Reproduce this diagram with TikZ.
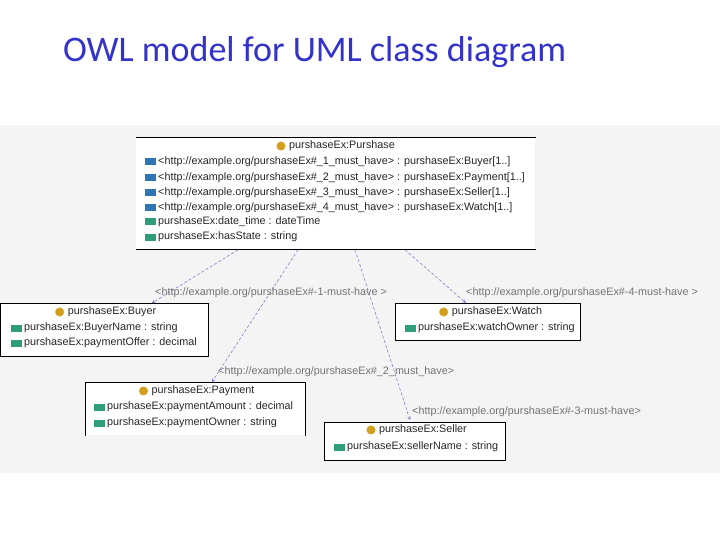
\documentclass[tikz,border=0pt]{standalone}
\usepackage{fontspec}
\setmainfont{Liberation Sans}
\newfontfamily\titlefont{Carlito}
\usetikzlibrary{calc}
\definecolor{ttl}{HTML}{3333CC}
\definecolor{op}{HTML}{2E75B6}
\definecolor{dp}{HTML}{2E9E7A}
\definecolor{cls}{HTML}{D4A020}
\definecolor{edge}{HTML}{7070D0}
\definecolor{bg}{HTML}{F4F4F4}
\tikzset{
 box/.style={draw=black, line width=0.8pt, fill=white, anchor=north west, inner sep=0pt},
 txt/.style={anchor=west, inner sep=0pt, font=\fontsize{10.8}{12}\selectfont, text=black!85},
 ttxt/.style={anchor=center, inner sep=0pt, font=\fontsize{10.8}{12}\selectfont, text=black!85},
 lbl/.style={anchor=west, inner sep=0pt, font=\fontsize{10.8}{12}\selectfont, text=black!55},
 rel/.style={draw=edge, densely dashed, line width=0.5pt, ->, >=stealth},
}
\newcommand{\opi}[1]{\fill[op] ($(#1)+(-13,-3.5)$) rectangle ++(11,7);}
\newcommand{\dpi}[1]{\fill[dp] ($(#1)+(-13,-3.5)$) rectangle ++(11,7);}
\newcommand{\clsi}[1]{\fill[cls] ($(#1)+(-8,0)$) circle (4.5);}
\begin{document}
\begin{tikzpicture}[x=1pt,y=-1pt]
\useasboundingbox (0,0) rectangle (720,540);
\fill[white] (0,0) rectangle (720,540);
\fill[bg] (0,125) rectangle (720,473);
\node[anchor=west, inner sep=0pt, text=ttl, font=\titlefont\fontsize{36}{40}\selectfont] (title) at (63,52) {OWL model for UML class diagram};
% Purchase
\node[box, minimum width=399pt, minimum height=112pt, draw=none] (P) at (136,137) {};
\draw[line width=0.8pt] (P.north west) -- (P.north east) (P.south west) -- (P.south east);
\node[ttxt] (pt) at (342,146) {purshaseEx:Purshase}; \clsi{pt.west}
\node[txt] (p1) at (158,162) {<http://example.org/purshaseEx\#\_1\_must\_have> : purshaseEx:Buyer[1..]}; \opi{p1.west}
\node[txt] (p2) at (158,178) {<http://example.org/purshaseEx\#\_2\_must\_have> : purshaseEx:Payment[1..]}; \opi{p2.west}
\node[txt] (p3) at (158,193) {<http://example.org/purshaseEx\#\_3\_must\_have> : purshaseEx:Seller[1..]}; \opi{p3.west}
\node[txt] (p4) at (158,208) {<http://example.org/purshaseEx\#\_4\_must\_have> : purshaseEx:Watch[1..]}; \opi{p4.west}
\node[txt] (p5) at (158,222) {purshaseEx:date\_time : dateTime}; \dpi{p5.west}
\node[txt] (p6) at (158,237) {purshaseEx:hasState : string}; \dpi{p6.west}
% Buyer
\node[box, minimum width=208pt, minimum height=53pt] (B) at (0,303) {};
\node[ttxt] (bt) at (112,312) {purshaseEx:Buyer}; \clsi{bt.west}
\node[txt] (b1) at (24,328) {purshaseEx:BuyerName : string}; \dpi{b1.west}
\node[txt] (b2) at (24,343) {purshaseEx:paymentOffer : decimal}; \dpi{b2.west}
% Watch
\node[box, minimum width=185pt, minimum height=37pt] (W) at (395,303) {};
\node[ttxt] (wt) at (497,312) {purshaseEx:Watch}; \clsi{wt.west}
\node[txt] (w1) at (418,328) {purshaseEx:watchOwner : string}; \dpi{w1.west}
% Payment
\node[box, minimum width=220pt, minimum height=53pt, draw=none] (Y) at (85,382) {};
\draw[line width=0.8pt] (Y.south west) -- (Y.north west) -- (Y.north east) -- (Y.south east);
\node[ttxt] (yt) at (203,391) {purshaseEx:Payment}; \clsi{yt.west}
\node[txt] (y1) at (107,407) {purshaseEx:paymentAmount : decimal}; \dpi{y1.west}
\node[txt] (y2) at (107,423) {purshaseEx:paymentOwner : string}; \dpi{y2.west}
% Seller
\node[box, minimum width=181pt, minimum height=38pt] (S) at (324,422) {};
\node[ttxt] (st) at (423,430) {purshaseEx:Seller}; \clsi{st.west}
\node[txt] (s1) at (347,447) {purshaseEx:sellerName : string}; \dpi{s1.west}
% edges
\coordinate (e1s) at ($(P.south west)+(102,0)$); \coordinate (e1t) at ($(B.north west)+(152,0)$);
\coordinate (e2s) at ($(P.south west)+(162,0)$); \coordinate (e2t) at ($(Y.north west)+(127,0)$);
\coordinate (e3s) at ($(P.south west)+(219,0)$); \coordinate (e3t) at ($(S.north west)+(86,-2)$);
\coordinate (e4s) at ($(P.south west)+(269,0)$); \coordinate (e4t) at ($(W.north west)+(71,0)$);
\draw[rel] (e1s) -- (e1t);
\draw[rel] (e2s) -- (e2t);
\draw[rel] (e3s) -- (e3t);
\draw[rel] (e4s) -- (e4t);
\node[lbl] (l1) at (155,293) {<http://example.org/purshaseEx\#-1-must-have >};
\node[lbl] (l2) at (218,372) {<http://example.org/purshaseEx\#\_2\_must\_have>};
\node[lbl] (l3) at (412,412) {<http://example.org/purshaseEx\#-3-must-have>};
\node[lbl] (l4) at (466,293) {<http://example.org/purshaseEx\#-4-must-have >};
\end{tikzpicture}
\end{document}
